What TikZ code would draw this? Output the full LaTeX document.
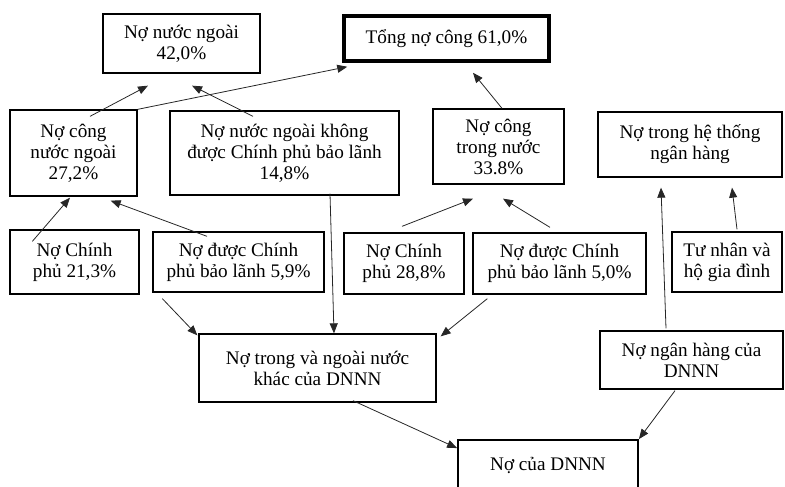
\documentclass[tikz,border=0pt]{standalone}
\usepackage{fontspec}
\setmainfont{Liberation Serif}
\usetikzlibrary{arrows.meta,positioning}

\begin{document}
\begin{tikzpicture}[
      x=1pt, y=-1pt,
      font=\fontsize{19.2}{21}\selectfont,
      box/.style={draw, line width=1.3pt, align=center, inner sep=0pt, fill=white},
      arr/.style={-{Triangle[length=10pt, width=8pt]}, line width=0.8pt, black!85}
    ]
    \useasboundingbox (0,0) rectangle (785,487);

    \node[box, minimum width=157pt, minimum height=59pt] (nnn)  at (181.5,43.5) {Nợ nước ngoài\\42,0\%};
    \node[box, line width=3.5pt, minimum width=205pt, minimum height=45pt] (tong) at (446.5,38.5) {Tổng nợ công 61,0\%};
    \node[box, minimum width=127pt, minimum height=86pt] (cnn)  at (73.5,153) {Nợ công\\nước ngoài\\27,2\%};
    \node[box, minimum width=229pt, minimum height=84pt] (kbl)  at (284.5,153) {Nợ nước ngoài không\\được Chính phủ bảo lãnh\\14,8\%};
    \node[box, minimum width=131pt, minimum height=75pt] (ctn)  at (498.5,146.5) {Nợ công\\trong nước\\33.8\%};
    \node[box, minimum width=184pt, minimum height=65pt] (nht)  at (690,144.5) {Nợ trong hệ thống\\ngân hàng};
    \node[box, minimum width=129pt, minimum height=64pt] (cp1)  at (74.5,262) {Nợ Chính\\phủ 21,3\%};
    \node[box, minimum width=171pt, minimum height=60pt] (bl1)  at (238.5,262) {Nợ được Chính\\phủ bảo lãnh 5,9\%};
    \node[box, minimum width=120pt, minimum height=61pt] (cp2)  at (404,263.5) {Nợ Chính\\phủ 28,8\%};
    \node[box, minimum width=173pt, minimum height=61pt] (bl2)  at (559.5,263.5) {Nợ được Chính\\phủ bảo lãnh 5,0\%};
    \node[box, minimum width=110pt, minimum height=60pt] (tn)   at (727,262) {Tư nhân và\\hộ gia đình};
    \node[box, minimum width=237pt, minimum height=68pt] (khac) at (317.5,368) {Nợ trong và ngoài nước\\khác của DNNN};
    \node[box, minimum width=183pt, minimum height=58pt] (nh)   at (691.5,360) {Nợ ngân hàng của\\DNNN};
    \node[box, line width=1.8pt, minimum width=180pt, minimum height=50pt] (dnnn) at (548,465) {Nợ của DNNN};

    \draw[arr] ([shift={(16.5,7)}]cnn.north) -- ([shift={(-33.5,12)}]nnn.south);
    \draw[arr] ([shift={(-31.5,6)}]kbl.north) -- ([shift={(10.5,12)}]nnn.south);
    \draw[arr] (cnn.north east) -- ([shift={(5,4)}]tong.south west);
    \draw[arr] ([shift={(3.5,0)}]ctn.north) -- ([shift={(26.5,10)}]tong.south);
    \draw[arr] ([shift={(23,12)}]cp1.north west) -- ([shift={(-3.5,1)}]cnn.south);
    \draw[arr] ([shift={(-31.5,5)}]bl1.north) -- ([shift={(-27,4)}]cnn.south east);
    \draw[arr] ([shift={(45.5,-2)}]kbl.south) -- ([shift={(16.5,0)}]khac.north);
    \draw[arr] ([shift={(10,6)}]bl1.south west) -- ([shift={(-1,2)}]khac.north west);
    \draw[arr] ([shift={(-2,-6)}]cp2.north) -- ([shift={(-25.5,14)}]ctn.south);
    \draw[arr] ([shift={(-9.5,-5)}]bl2.north) -- ([shift={(4.5,14)}]ctn.south);
    \draw[arr] ([shift={(15,4)}]bl2.south west) -- ([shift={(4,3)}]khac.north east);
    \draw[arr] ([shift={(-25.5,-2)}]nh.north) -- ([shift={(-29,10)}]nht.south);
    \draw[arr] ([shift={(10,-2)}]tn.north) -- ([shift={(42,10)}]nht.south);
    \draw[arr] ([shift={(35.5,-2)}]khac.south) -- ([shift={(0,9)}]dnnn.north west);
    \draw[arr] ([shift={(-16.5,1)}]nh.south) -- (dnnn.north east);
  \end{tikzpicture}
\end{document}
